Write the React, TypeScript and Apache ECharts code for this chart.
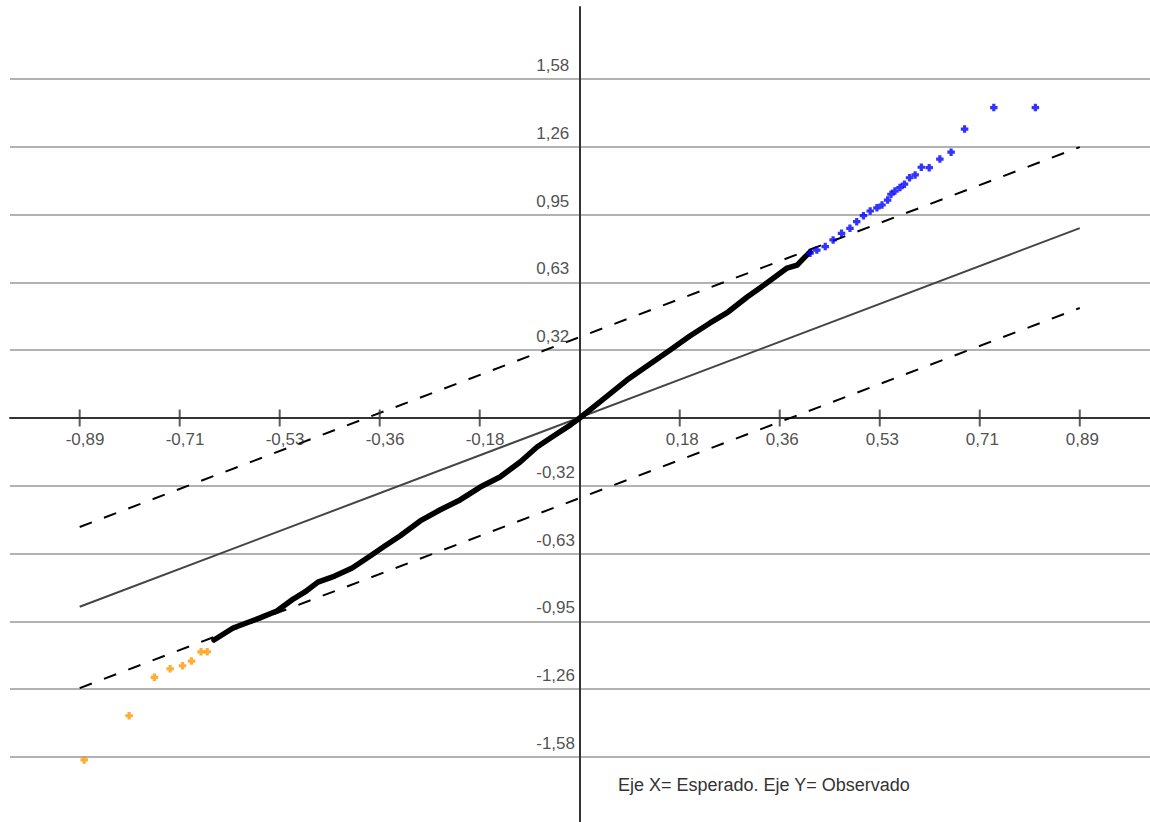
import React, { useEffect, useRef } from "react";
import * as echarts from "echarts";

// Axis ticks (value -> label)
const xTickValues = [-0.89, -0.712, -0.534, -0.356, -0.178, 0.178, 0.356, 0.534, 0.712, 0.89];
const xTickLabels = ["-0,89", "-0,71", "-0,53", "-0,36", "-0,18", "0,18", "0,36", "0,53", "0,71", "0,89"];
const yTickValues = [-1.58, -1.264, -0.948, -0.632, -0.316, 0.316, 0.632, 0.948, 1.264, 1.58];
const yTickLabels = ["-1,58", "-1,26", "-0,95", "-0,63", "-0,32", "0,32", "0,63", "0,95", "1,26", "1,58"];

// Reference line (expected = observed) and confidence bands
const refLine = [[-0.89, -0.88], [0.89, 0.885]];
const upperBand = [[-0.89, -0.508], [0.89, 1.263]];
const lowerBand = [[-0.89, -1.259], [0.89, 0.513]];

// Observed points within the band (black)
const blackX = [-0.651, -0.617, -0.569, -0.539, -0.51, -0.489, -0.466, -0.436, -0.405, -0.373, -0.347, -0.32, -0.284, -0.249, -0.213, -0.177, -0.142, -0.106, -0.076, -0.044, -0.017, 0.0, 0.036, 0.084, 0.125, 0.161, 0.196, 0.232, 0.264, 0.298, 0.333, 0.369, 0.387, 0.401, 0.41];
const blackY = [-1.035, -0.979, -0.932, -0.9, -0.844, -0.811, -0.765, -0.737, -0.699, -0.643, -0.597, -0.55, -0.48, -0.429, -0.382, -0.322, -0.275, -0.205, -0.135, -0.079, -0.033, 0.0, 0.075, 0.177, 0.252, 0.317, 0.382, 0.443, 0.494, 0.564, 0.629, 0.699, 0.713, 0.751, 0.774];

// Points above the upper band (blue)
const blueX = [0.41, 0.422, 0.437, 0.451, 0.466, 0.481, 0.493, 0.505, 0.517, 0.529, 0.538, 0.548, 0.554, 0.561, 0.57, 0.578, 0.587, 0.597, 0.608, 0.622, 0.641, 0.661, 0.685, 0.737, 0.811];
const blueY = [0.768, 0.783, 0.799, 0.83, 0.861, 0.884, 0.915, 0.943, 0.965, 0.98, 0.993, 1.016, 1.043, 1.058, 1.074, 1.09, 1.12, 1.133, 1.169, 1.167, 1.207, 1.239, 1.347, 1.447, 1.447];

// Points below the lower band (orange)
const orangeX = [-0.882, -0.802, -0.757, -0.729, -0.707, -0.691, -0.674, -0.663];
const orangeY = [-1.594, -1.388, -1.209, -1.169, -1.155, -1.133, -1.09, -1.09];

const caption = "Eje X= Esperado. Eje Y= Observado";

const FONT = "'Liberation Sans', Arial, Helvetica, sans-serif";
const PLUS = "path://M2,0H5V2H7V5H5V7H2V5H0V2H2Z";

function zip(xs: number[], ys: number[]) {
  return xs.map((x, i) => [x, ys[i]]);
}

export default function App() {
  const ref = useRef<HTMLDivElement>(null);

  useEffect(() => {
    if (!ref.current) return;
    const chart = echarts.init(ref.current, null, { renderer: "svg" });
    chart.setOption({
      animation: false,
      textStyle: { fontFamily: FONT },
      grid: { left: 10, right: 0, top: 7, bottom: 0, containLabel: false, outerBoundsMode: "none" },
      xAxis: {
        type: "value",
        min: -1.014,
        max: 1.015,
        axisLine: { onZero: true, lineStyle: { color: "#333", width: 2 } },
        axisTick: { show: false, customValues: xTickValues },
        splitLine: { show: false },
        axisLabel: { show: false },
      },
      yAxis: {
        type: "value",
        min: -1.8834,
        max: 1.916,
        axisLine: { onZero: true, lineStyle: { color: "#333", width: 2 } },
        axisTick: { show: false, customValues: yTickValues },
        splitLine: { show: true, lineStyle: { color: "#999", width: 1.5 } },
        axisLabel: { show: false },
      },
      graphic: [
        {
          type: "text",
          left: 618,
          top: 776,
          style: { text: caption, fontSize: 18, fill: "#333", fontFamily: FONT },
        },
      ],
      series: [
        {
          type: "line",
          data: upperBand,
          symbol: "none",
          silent: true,
          lineStyle: { color: "#000", width: 2, type: [13, 13] },
          z: 3,
        },
        {
          type: "line",
          data: lowerBand,
          symbol: "none",
          silent: true,
          lineStyle: { color: "#000", width: 2, type: [13, 13] },
          z: 3,
        },
        {
          type: "line",
          data: refLine,
          symbol: "none",
          silent: true,
          lineStyle: { color: "#444", width: 2 },
          z: 3,
        },
        {
          type: "line",
          data: zip(blackX, blackY),
          symbol: "none",
          silent: true,
          lineStyle: { color: "#000", width: 5.5, join: "round", cap: "round" },
          z: 4,
        },
        {
          type: "scatter",
          data: zip(blueX, blueY),
          symbol: PLUS,
          symbolSize: 7.5,
          itemStyle: { color: "#0000ff" },
          silent: true,
          z: 5,
        },
        {
          type: "scatter",
          data: zip(orangeX, orangeY),
          symbol: PLUS,
          symbolSize: 7.5,
          itemStyle: { color: "#ff9900" },
          silent: true,
          z: 5,
        },
        {
          // x-axis tick marks and their labels
          type: "scatter",
          data: xTickValues.map((v, i) => ({ value: [v, 0], name: xTickLabels[i] })),
          symbol: "rect",
          symbolSize: [2, 17],
          itemStyle: { color: "#333" },
          silent: true,
          z: 6,
          label: {
            show: true,
            formatter: (p: any) => p.name,
            position: [-13, 22],
            align: "left",
            verticalAlign: "top",
            fontSize: 17,
            color: "#222",
            fontFamily: FONT,
          },
        },
        {
          // y-axis labels
          type: "scatter",
          data: yTickValues.map((v, i) => ({ value: [0, v], name: yTickLabels[i] })),
          symbol: "rect",
          symbolSize: 1,
          itemStyle: { color: "rgba(0,0,0,0)" },
          silent: true,
          z: 6,
          label: {
            show: true,
            formatter: (p: any) => p.name,
            position: [-43, -13],
            align: "left",
            verticalAlign: "middle",
            fontSize: 17,
            color: "#222",
            fontFamily: FONT,
          },
        },
      ],
    });
    return () => chart.dispose();
  }, []);

  return (
    <div
      ref={ref}
      style={{ position: "absolute", left: 0, top: 0, width: 1150, height: 822, background: "#fff" }}
    />
  );
}
